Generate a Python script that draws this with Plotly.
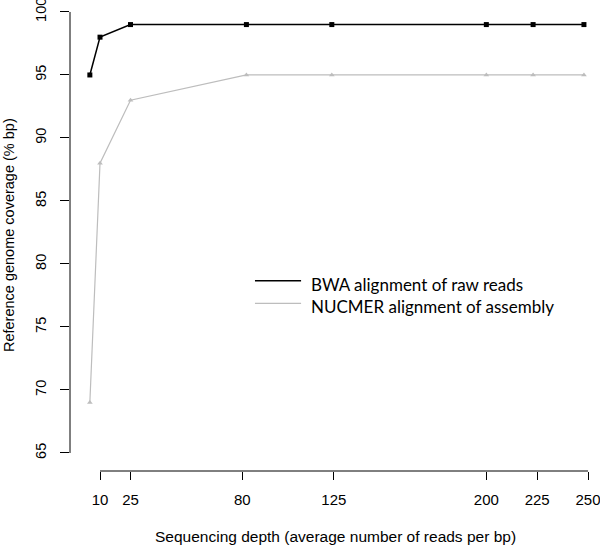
import plotly.graph_objs as go

### Data ###

depth = [5, 10, 25, 82, 124, 200, 223, 248]
bwa_coverage = [95, 98, 99, 99, 99, 99, 99, 99]
nucmer_coverage = [69, 88, 93, 95, 95, 95, 95, 95]

x_ticks = [10, 25, 80, 125, 200, 225, 250]
y_ticks = [65, 70, 75, 80, 85, 90, 95, 100]

series_names = ["BWA alignment of raw reads", "NUCMER alignment of assembly"]
series_colors = ["#000000", "#bdbdbd"]

axis_font = dict(family = "Liberation Sans, Arial, sans-serif", size = 15, color = "black")

### Figure ###

figure = go.Figure()

# Raw reads (black squares)
figure.add_trace(go.Scatter(
    x = depth,
    y = bwa_coverage,
    mode = "lines+markers",
    line = dict(color = series_colors[0], width = 1.5),
    marker = dict(symbol = "square", size = 5, color = series_colors[0]),
    name = series_names[0]
))

# Assembly (grey triangles)
figure.add_trace(go.Scatter(
    x = depth,
    y = nucmer_coverage,
    mode = "lines+markers",
    line = dict(color = series_colors[1], width = 1.2),
    marker = dict(symbol = "triangle-up", size = 5, color = series_colors[1]),
    name = series_names[1]
))

# R style detached axis lines
figure.add_shape(type = "line", xref = "x", yref = "paper",
                 x0 = min(x_ticks), x1 = max(x_ticks), y0 = 0, y1 = 0,
                 line = dict(color = "black", width = 1))
figure.add_shape(type = "line", xref = "paper", yref = "y",
                 x0 = 0, x1 = 0, y0 = min(y_ticks), y1 = max(y_ticks),
                 line = dict(color = "black", width = 1))

# Axis titles
figure.add_annotation(text = "Sequencing depth (average number of reads per bp)",
                      xref = "paper", yref = "paper", x = 0.5, y = 0,
                      xanchor = "center", yanchor = "middle", yshift = -65,
                      showarrow = False,
                      font = dict(family = "Liberation Sans, Arial, sans-serif", size = 15.5, color = "black"))
figure.add_annotation(text = "Reference genome coverage (% bp)",
                      xref = "paper", yref = "paper", x = 0, y = 0.501,
                      xanchor = "center", yanchor = "middle", xshift = -61,
                      textangle = -90, showarrow = False,
                      font = dict(family = "Liberation Sans, Arial, sans-serif", size = 14.5, color = "black"))

# Hand drawn legend
legend_font = dict(family = "Lato, Open Sans, sans-serif", size = 17, color = "black")
for i, (label, colour) in enumerate(zip(series_names, series_colors)):
    y_pos = 0.404 - i * 0.048
    figure.add_shape(type = "line", xref = "paper", yref = "paper",
                     x0 = 0.349, x1 = 0.436, y0 = y_pos, y1 = y_pos,
                     line = dict(color = colour, width = 1.5 if i == 0 else 1.2))
    figure.add_annotation(text = label, xref = "paper", yref = "paper",
                          x = 0.451, y = y_pos - 0.0075, xanchor = "left", yanchor = "middle",
                          showarrow = False, font = legend_font)

figure.update_layout(
    width = 600,
    height = 545,
    margin = dict(l = 70, r = 0, t = 0, b = 74),
    paper_bgcolor = "white",
    plot_bgcolor = "white",
    showlegend = False,
    xaxis = dict(
        range = [-4.76, 255.9],
        tickvals = x_ticks,
        ticktext = [str(v) for v in x_ticks],
        ticks = "outside", ticklen = 8, tickcolor = "black", tickwidth = 1,
        showgrid = False, zeroline = False, showline = False,
        tickfont = axis_font,
        ticklabelstandoff = 7,
        ticklabeloverflow = "allow",
        automargin = False
    ),
    yaxis = dict(
        range = [63.57, 100.95],
        tickvals = y_ticks,
        ticks = "outside", ticklen = 9, tickcolor = "black", tickwidth = 1,
        tickangle = -90,
        showgrid = False, zeroline = False, showline = False,
        tickfont = dict(family = "Liberation Sans, Arial, sans-serif", size = 14.5, color = "black"),
        ticklabelstandoff = 8,
        ticklabeloverflow = "allow",
        automargin = False
    )
)

# Drop the default body margin so the figure sits at the window's corner
figure.write_html("out.html",
                  config = {"displayModeBar": False},
                  post_script = "document.body.style.margin = '0';")
